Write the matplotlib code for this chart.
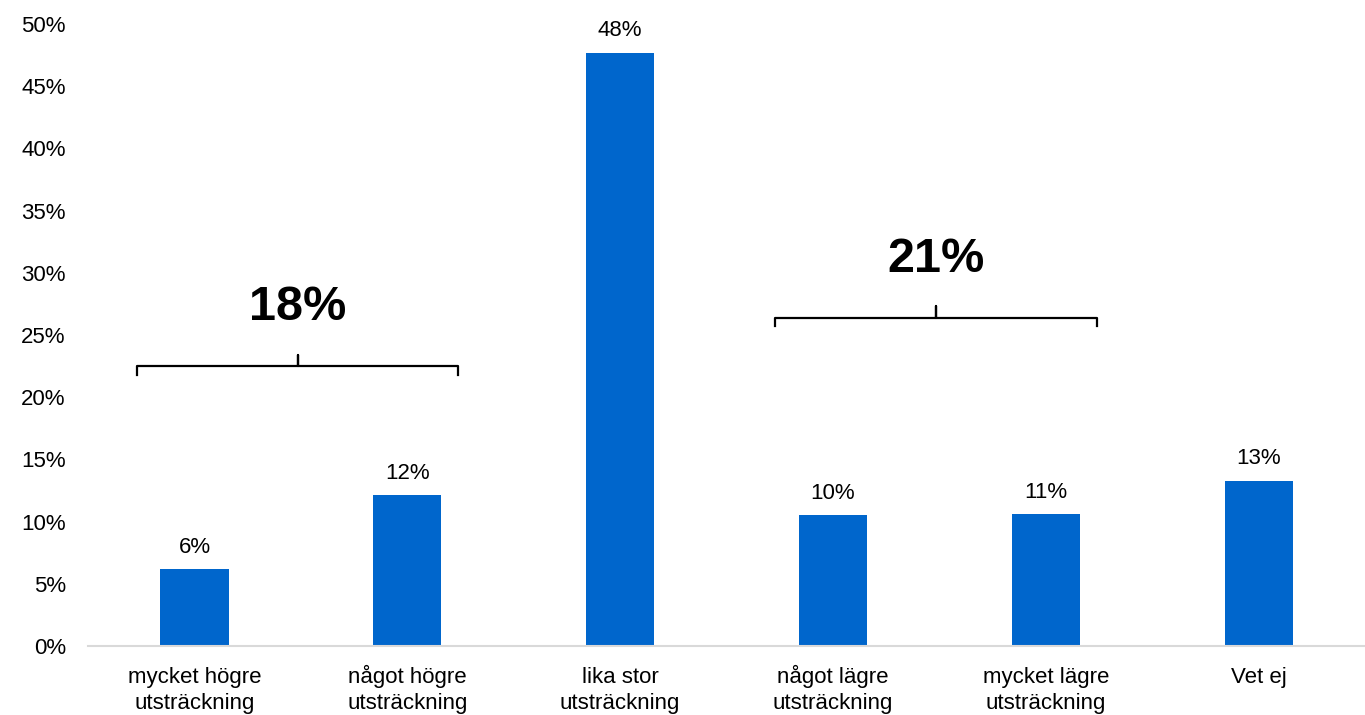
import matplotlib.pyplot as plt
import numpy as np

plt.rcParams['font.family'] = ['Liberation Sans', 'DejaVu Sans']

kategorier = ['mycket högre\nutsträckning', 'något högre\nutsträckning', 'lika stor\nutsträckning',
              'något lägre\nutsträckning', 'mycket lägre\nutsträckning', 'Vet ej\n ']
andel = [6.2, 12.1, 47.7, 10.5, 10.6, 13.3]
etiketter = ['6%', '12%', '48%', '10%', '11%', '13%']
grupper = [(0, 1, '18%', 22.5), (3, 4, '21%', 26.4)]

fig = plt.figure(figsize=(13.65, 7.15), dpi=100)
ax = fig.add_axes([0.0645, 0.0965, 0.9355, 0.87])

x = np.arange(len(kategorier))
ax.bar(x, andel, width=0.32, color='#0066CC')
for xi, v, t in zip(x, andel, etiketter):
    ax.annotate(t, (xi, v), xytext=(0, 8), textcoords='offset points',
                ha='center', va='bottom', fontsize=16)

# klamrar
for a, b, t, y in grupper:
    x0, x1 = a - 0.27, b + 0.24
    xm = (x0 + x1) / 2
    d = 0.7
    ax.plot([x0, x0, xm, xm, xm, x1, x1], [y - d, y, y, y + 0.9, y, y, y - d],
            color='black', lw=1.6, solid_joinstyle='round', clip_on=False)
    ax.text(xm, y + 4.7, t, ha='center', va='center', fontsize=35, fontweight='bold')

ax.set_xlim(-0.5, len(kategorier) - 0.5)
ax.set_ylim(0, 50)
ax.set_yticks(range(0, 51, 5))
ax.set_yticklabels([f'{v}%' for v in range(0, 51, 5)])
ax.set_xticks(x)
ax.set_xticklabels(kategorier, va='baseline', linespacing=1.3)
ax.tick_params(axis='y', length=0, pad=16, labelsize=16)
ax.tick_params(axis='x', length=0, pad=45, labelsize=16)
for s in ['top', 'right', 'left']:
    ax.spines[s].set_visible(False)
ax.spines['bottom'].set_color('#d9d9d9')
ax.spines['bottom'].set_linewidth(1.5)

fig.savefig('out.png')
